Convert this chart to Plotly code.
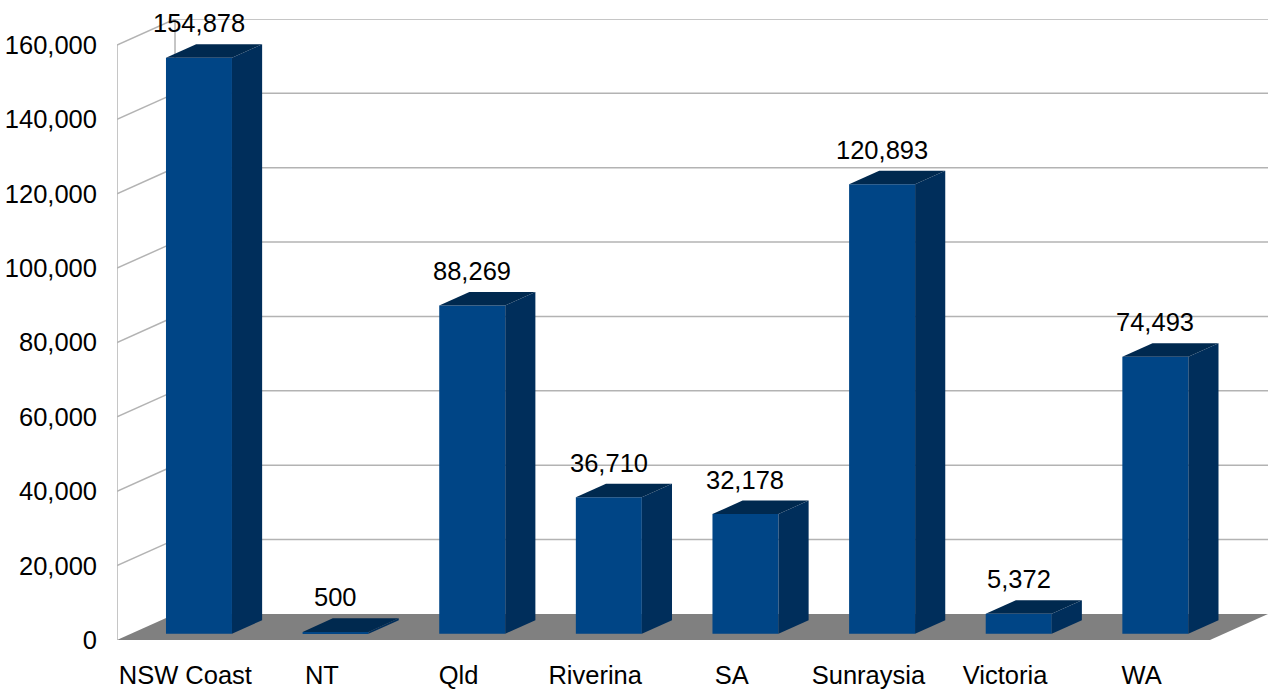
import plotly.graph_objects as go

# Data
regions = ["NSW Coast", "NT", "Qld", "Riverina", "SA", "Sunraysia", "Victoria", "WA"]
volumes = [154878, 500, 88269, 36710, 32178, 120893, 5372, 74493]
y_ticks = [0, 20000, 40000, 60000, 80000, 100000, 120000, 140000, 160000]
y_tick_text = ["0", "20,000", "40,000", "60,000", "80,000", "100,000", "120,000", "140,000", "160,000"]

# Oblique projection of the chart's depth axis (in x-category / value units)
DEPTH_DX = 0.4246
DEPTH_DY = 7000
BAR_FRONT = 0.24          # fraction of depth where the bar front face sits
BAR_DEPTH = 0.52          # fraction of depth the bar occupies
BAR_HALF = 0.2415
BAR_CENTER_SHIFT = 0.100

FRONT_FACE = "#004586"
SIDE_FACE = "#002e5b"
TOP_FACE = "#00294f"
GRID = "#b3b3b3"
FLOOR = "#808080"
FONT_SIZE = 25.5

n = len(regions)
x_lo, x_hi = -0.5, n - 0.5
back_lo = x_lo + DEPTH_DX
back_hi = x_hi + DEPTH_DX
y_top = max(y_ticks)

shapes = []
# floor
shapes.append(dict(type="path", xref="x", yref="y", layer="below",
                   path=f"M{x_lo},0 L{x_hi},0 L{back_hi},{DEPTH_DY} L{back_lo},{DEPTH_DY} Z",
                   fillcolor=FLOOR, line=dict(width=0)))
# left wall front edge and back-wall left edge
shapes.append(dict(type="line", xref="x", yref="y", layer="below",
                   x0=x_lo, y0=0, x1=x_lo, y1=y_top, line=dict(color=GRID, width=1.5)))
shapes.append(dict(type="line", xref="x", yref="y", layer="below",
                   x0=back_lo, y0=DEPTH_DY, x1=back_lo, y1=y_top + DEPTH_DY,
                   line=dict(color=GRID, width=1.5)))
# gridlines on left and back walls
for v in y_ticks[1:]:
    shapes.append(dict(type="line", xref="x", yref="y", layer="below",
                       x0=x_lo, y0=v, x1=back_lo, y1=v + DEPTH_DY,
                       line=dict(color=GRID, width=1.5)))
    shapes.append(dict(type="line", xref="x", yref="y", layer="below",
                       x0=back_lo, y0=v + DEPTH_DY, x1=back_hi, y1=v + DEPTH_DY,
                       line=dict(color=GRID, width=1.5)))

fdx = BAR_FRONT * DEPTH_DX
fdy = BAR_FRONT * DEPTH_DY
bdx = BAR_DEPTH * DEPTH_DX
bdy = BAR_DEPTH * DEPTH_DY

fig = go.Figure()

centers = [i + BAR_CENTER_SHIFT for i in range(n)]

# front faces
fig.add_trace(go.Bar(x=centers, y=volumes, base=[fdy] * n, width=BAR_HALF * 2,
                     marker=dict(color=FRONT_FACE, line=dict(width=0)),
                     hoverinfo="skip", showlegend=False))

# side and top faces
for c, v in zip(centers, volumes):
    xl, xr = c - BAR_HALF, c + BAR_HALF
    y0, y1 = fdy, fdy + v
    fig.add_trace(go.Scatter(
        x=[xr, xr, xr + bdx, xr + bdx, xr], y=[y0, y1, y1 + bdy, y0 + bdy, y0],
        fill="toself", fillcolor=SIDE_FACE, mode="lines", line=dict(width=0),
        hoverinfo="skip", showlegend=False))
    fig.add_trace(go.Scatter(
        x=[xl, xr, xr + bdx, xl + bdx, xl], y=[y1, y1, y1 + bdy, y1 + bdy, y1],
        fill="toself", fillcolor=TOP_FACE, mode="lines", line=dict(width=0),
        hoverinfo="skip", showlegend=False))

annotations = []
for c, v in zip(centers, volumes):
    annotations.append(dict(x=c, y=fdy + v + bdy, xref="x", yref="y",
                            text=f"{v:,}", showarrow=False, yanchor="middle",
                            yshift=21, font=dict(size=FONT_SIZE, color="black")))

fig.update_layout(
    width=1268, height=691,
    margin=dict(l=117, r=0, t=19, b=51),
    paper_bgcolor="white", plot_bgcolor="white",
    font=dict(family="Liberation Sans, Arial, sans-serif", size=FONT_SIZE, color="black"),
    shapes=shapes, annotations=annotations,
    xaxis=dict(range=[x_lo, back_hi], tickvals=list(range(n)), ticktext=regions,
               showgrid=False, zeroline=False, showline=False, ticks="",
               ticklabelstandoff=17, fixedrange=True),
    yaxis=dict(range=[0, y_top + DEPTH_DY], tickvals=y_ticks, ticktext=y_tick_text,
               showgrid=False, zeroline=False, showline=False, ticks="",
               ticklabelstandoff=19, fixedrange=True),
    showlegend=False,
)

fig.write_html("out.html")
